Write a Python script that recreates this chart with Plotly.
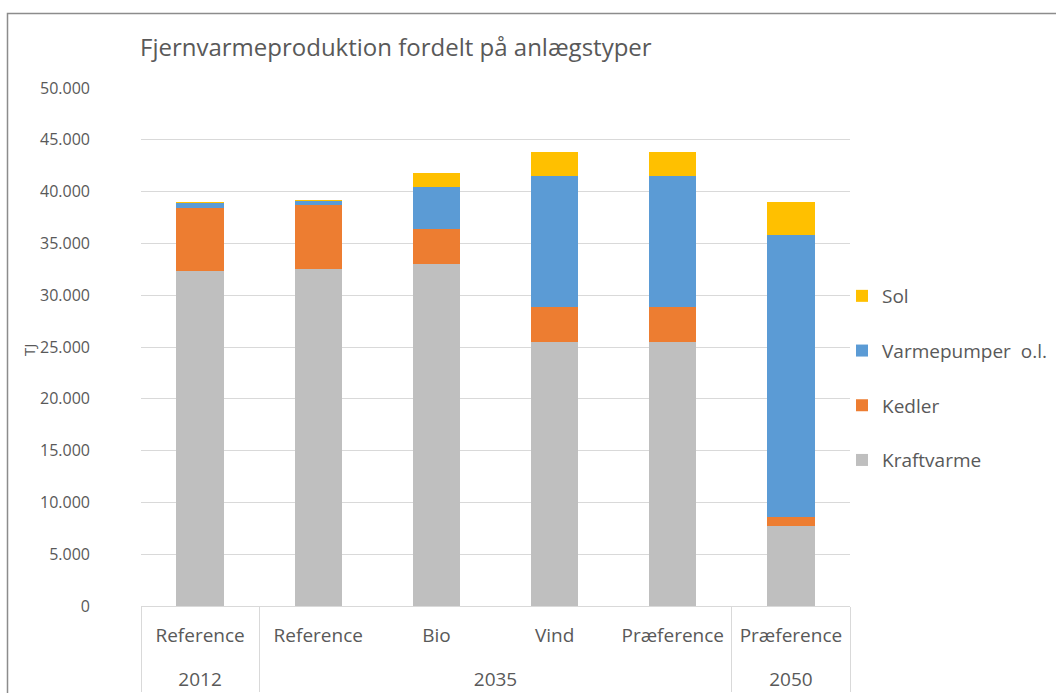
import plotly.graph_objects as go

years = ["2012", "2035", "2035", "2035", "2035", "2050"]
scenarios = ["Reference", "Reference", "Bio", "Vind", "Præference", "Præference"]

kraftvarme = [32300, 32500, 33000, 25450, 25450, 7700]
kedler = [6100, 6200, 3400, 3450, 3450, 850]
varmepumper = [500, 400, 4050, 12650, 12650, 27250]
sol = [60, 80, 1300, 2300, 2300, 3200]

series = [
    ("Kraftvarme", kraftvarme, "#BFBFBF"),
    ("Kedler", kedler, "#ED7D31"),
    ("Varmepumper  o.l.", varmepumper, "#5B9BD5"),
    ("Sol", sol, "#FFC000"),
]

FONT = "'Open Sans', Lato, sans-serif"
TXT = "#595959"

# inner labels get an extra blank (tall) line so the outer (year) row sits lower
inner = [s + "<br><span style='font-size:32px'> </span>" for s in scenarios]

fig = go.Figure()
for i, (name, vals, col) in enumerate(series):
    fig.add_trace(go.Bar(
        x=[years, inner], y=vals, name=name,
        marker=dict(color=col, line=dict(width=0)),
        legendgroup=str(i), legendrank=len(series) - i,
    ))

L, R, T, B = 141, 206, 88, 87
W, H = 1056, 693
pw = W - L - R
ph = H - T - B

fig.update_layout(
    width=W, height=H,
    margin=dict(l=L, r=R, t=T, b=B, autoexpand=False),
    barmode="stack", bargap=0.6,
    paper_bgcolor="white", plot_bgcolor="white",
    separators=",.",
    font=dict(family=FONT, size=16, color=TXT),
    title=dict(text="Fjernvarmeproduktion fordelt på anlægstyper",
               x=140 / W, xanchor="left", xref="container",
               y=1 - 48 / H, yanchor="middle", yref="container",
               font=dict(family=FONT, size=24, color=TXT)),
    legend=dict(x=(842 - L) / pw, xanchor="left", y=(606 - 378) / ph, yanchor="middle",
                traceorder="grouped", tracegroupgap=27,
                font=dict(family=FONT, size=19, color=TXT),
                bgcolor="rgba(0,0,0,0)"),
    xaxis=dict(type="multicategory", showgrid=False,
               showline=True, linecolor="#D9D9D9", linewidth=1,
               showdividers=True, dividercolor="#D9D9D9", dividerwidth=1,
               ticklabelstandoff=12,
               tickfont=dict(family=FONT, size=19, color=TXT)),
    yaxis=dict(range=[0, 50000], dtick=5000, tickformat=",",
               showgrid=True, gridcolor="#D9D9D9", gridwidth=1,
               zeroline=False, showline=False,
               ticklabelstandoff=50,
               tickfont=dict(family=FONT, size=16, color=TXT)),
    showlegend=True,
)

fig.add_annotation(text="TJ", textangle=-90, xref="paper", yref="paper",
                   x=(29 - L) / pw, y=(606 - 350) / ph, showarrow=False,
                   xanchor="center", yanchor="middle",
                   font=dict(family=FONT, size=15, color=TXT))

fig.add_shape(type="rect", xref="paper", yref="paper",
              x0=(7.5 - L) / pw, x1=1.5, y0=-0.5, y1=(606 - 13.5) / ph,
              line=dict(color="#8C8C8C", width=1.5), layer="below")

fig.write_html("out.html", config={"displayModeBar": False},
               post_script="document.body.style.margin='0';")
